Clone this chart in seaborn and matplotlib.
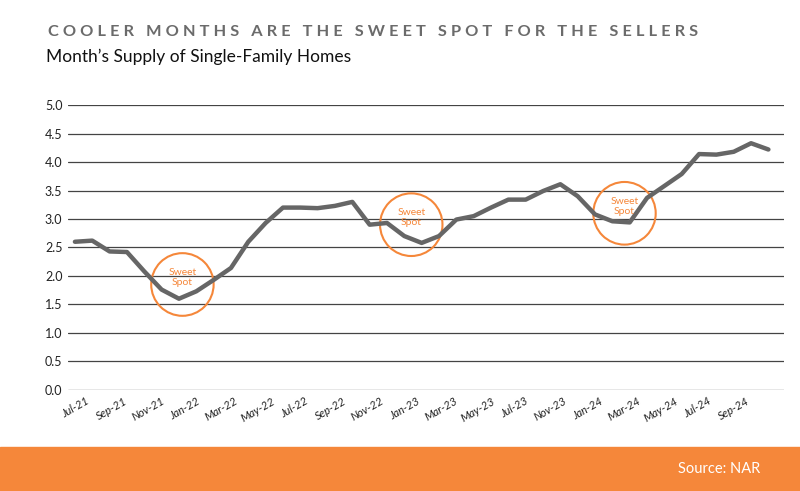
import matplotlib
matplotlib.use('Agg')
import matplotlib.pyplot as plt
import seaborn as sns
import numpy as np
from matplotlib.patches import Ellipse, Rectangle

# monthly supply, Jul-21 .. Nov-24
supply = [2.60, 2.62, 2.43, 2.42, 2.08, 1.76, 1.60, 1.73, 1.93, 2.14,
          2.60, 2.93, 3.20, 3.20, 3.19, 3.23, 3.30, 2.90, 2.93, 2.70,
          2.58, 2.70, 2.99, 3.05, 3.20, 3.34, 3.34, 3.49, 3.61, 3.40,
          3.08, 2.96, 2.94, 3.37, 3.58, 3.79, 4.14, 4.13, 4.18, 4.33, 4.22]
tick_labels = ["Jul-21", "Sep-21", "Nov-21", "Jan-22", "Mar-22", "May-22", "Jul-22",
               "Sep-22", "Nov-22", "Jan-23", "Mar-23", "May-23", "Jul-23", "Nov-23",
               "Jan-24", "Mar-24", "May-24", "Jul-24", "Sep-24"]
spot_x = [6.2, 19.4, 31.7]
spot_y = [1.85, 2.9, 3.1]

sns.set_theme(style="white")
plt.rcParams['font.family'] = ['Lato', 'DejaVu Sans']

fig = plt.figure(figsize=(8, 4.91), dpi=100)
ax = fig.add_axes([0.085, 0.206, 0.895, 0.58])

sns.lineplot(x=np.arange(len(supply)), y=supply, ax=ax, color="#666666", linewidth=3.2)

orange = "#f5873a"
for sx, sy in zip(spot_x, spot_y):
    ax.add_patch(Ellipse((sx, sy), 3.6, 1.1, fill=False, edgecolor=orange, linewidth=1.5))
    ax.text(sx, sy + 0.12, "Sweet\nSpot", color=orange, fontsize=7.5, ha="center", va="center",
            linespacing=1.1)

ax.set_ylim(0, 5)
ax.set_xlim(-0.4, 40.9)
ax.set_yticks(np.arange(0, 5.01, 0.5))
ax.set_yticklabels([f"{v:.1f}" for v in np.arange(0, 5.01, 0.5)], fontsize=9, color="#222222")
ax.set_xticks(np.linspace(0, 38, len(tick_labels)))
ax.set_xticklabels(tick_labels, rotation=30, fontsize=8, color="#222222", style="italic")
ax.tick_params(axis="both", length=0, pad=4)
ax.yaxis.grid(True, color="#444444", linewidth=0.9)
for s in ax.spines.values():
    s.set_visible(False)
ax.set_xlabel("")
ax.set_ylabel("")

fig.text(0.06, 0.935, "C O O L E R   M O N T H S   A R E   T H E   S W E E T   S P O T   F O R   T H E   S E L L E R S",
         fontsize=11.8, fontweight="bold", color="#6b6b6b", va="center")
fig.text(0.058, 0.885, "Month\u2019s Supply of Single-Family Homes", fontsize=12.5, color="#111111", va="center")

fig.add_artist(Rectangle((0, 0), 1, 0.09, transform=fig.transFigure, color=orange))
fig.text(0.95, 0.045, "Source: NAR", fontsize=10.5, color="white", ha="right", va="center")

fig.savefig("out.png", dpi=100)
